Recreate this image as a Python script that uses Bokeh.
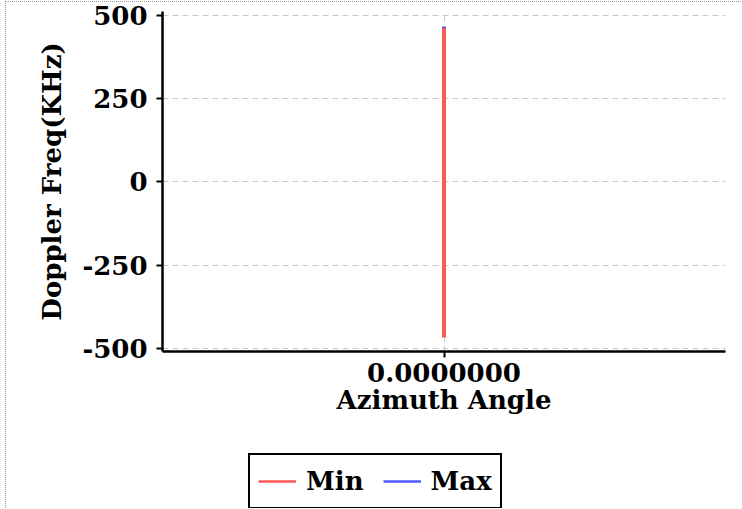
from bokeh.plotting import figure
from bokeh.layouts import column
from bokeh.models import Range1d, FixedTicker, Legend, LegendItem, ColumnDataSource
from bokeh.embed import file_html
from bokeh.resources import INLINE

# ---- data ----
azimuth_min = [0.0, 0.0]
doppler_min = [-468, 462]
azimuth_max = [0.0, 0.0]
doppler_max = [-462, 467]
x_ticks = [0.0]
x_tick_labels = {0.0: "0.0000000"}
y_ticks = [-500, -250, 0, 250, 500]
y_tick_labels = {-500: "-500", -250: "-250", 0: "0", 250: "250", 500: "500"}
series_names = ["Min", "Max"]
series_colors = ["#ff5757", "#5757ff"]

FONT = "DejaVu Serif"

p = figure(
    output_backend="svg", toolbar_location=None,
    width=735, height=440,
    min_border_left=156, min_border_right=16, min_border_top=9, min_border_bottom=91,
    x_range=Range1d(-1, 1), y_range=Range1d(-510, 512),
    background_fill_color="white", border_fill_color="white",
)
p.outline_line_color = None

src_max = ColumnDataSource(dict(x=azimuth_max, y=doppler_max))
src_min = ColumnDataSource(dict(x=azimuth_min, y=doppler_min))
p.line("x", "y", source=src_max, line_color=series_colors[1], line_width=4)
p.line("x", "y", source=src_min, line_color=series_colors[0], line_width=4)

# axes
for ax in (p.xaxis[0], p.yaxis[0]):
    ax.axis_line_color = "black"
    ax.axis_line_width = 2.5
    ax.major_tick_line_color = "black"
    ax.major_tick_line_width = 2
    ax.major_tick_in = 0
    ax.major_tick_out = 6
    ax.minor_tick_line_color = None
    ax.major_label_text_font = FONT
    ax.major_label_text_font_style = "bold"
    ax.major_label_text_font_size = "26px"
    ax.major_label_text_color = "black"
    ax.axis_label_text_font = FONT
    ax.axis_label_text_font_style = "bold"
    ax.axis_label_text_font_size = "26px"
    ax.axis_label_text_color = "black"

p.xaxis.ticker = FixedTicker(ticks=x_ticks)
p.xaxis.major_label_overrides = x_tick_labels
p.xaxis.axis_label = "Azimuth Angle"
p.xaxis.major_label_standoff = 5
p.xaxis.axis_label_standoff = 0

p.yaxis.ticker = FixedTicker(ticks=y_ticks)
p.yaxis.major_label_overrides = y_tick_labels
p.yaxis.axis_label = "Doppler Freq(KHz)"
p.yaxis.major_label_standoff = 9
p.yaxis.axis_label_standoff = 12

for g in (p.xgrid[0], p.ygrid[0]):
    g.grid_line_color = "#c8c8c8"
    g.grid_line_dash = "6 4"
    g.grid_line_width = 1
p.xgrid.ticker = FixedTicker(ticks=x_ticks)
p.ygrid.ticker = FixedTicker(ticks=y_ticks)

# ---- legend strip (separate figure below the chart; its ranges keep the
# proxy lines out of view so only the legend swatches show) ----
q = figure(
    output_backend="svg", toolbar_location=None,
    width=735, height=66, min_border=0,
    x_range=Range1d(10, 11), y_range=Range1d(10000, 10001),
    background_fill_color="white", border_fill_color="white",
)
q.outline_line_color = None
q.xaxis.visible = False
q.yaxis.visible = False
q.xgrid.visible = False
q.ygrid.visible = False
leg_min = q.line("x", "y", source=src_min, line_color=series_colors[0], line_width=2.5)
leg_max = q.line("x", "y", source=src_max, line_color=series_colors[1], line_width=2.5)

legend = Legend(
    items=[LegendItem(label=series_names[0], renderers=[leg_min]),
           LegendItem(label=series_names[1], renderers=[leg_max])],
    orientation="horizontal",
    location=(86, -1),
    border_line_color="black", border_line_width=2, border_line_alpha=1,
    background_fill_color="white", background_fill_alpha=1,
    label_text_font=FONT, label_text_font_style="bold", label_text_font_size="26px",
    label_text_color="black",
    glyph_width=38, glyph_height=36, label_standoff=10, spacing=19,
    padding=8, margin=0,
)
q.add_layout(legend, "center")

layout = column(p, q, spacing=0)
layout.styles = {
    "margin": "1px 0px 0px 5px",
    "border-left": "1px dotted #9a9a9a",
    "border-top": "1px dotted #9a9a9a",
}

open("out.html", "w").write(file_html(layout, INLINE))
